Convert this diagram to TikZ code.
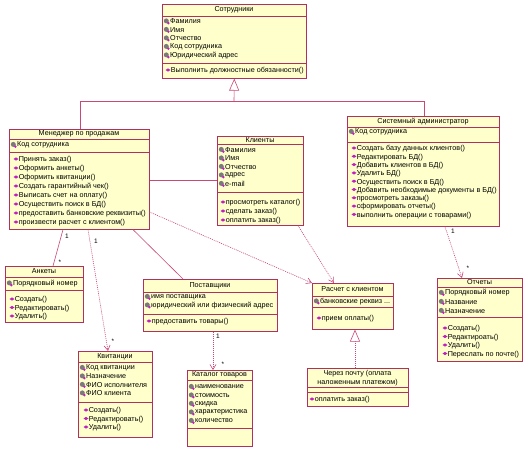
\documentclass[tikz,border=0pt]{standalone}
\usepackage{fontspec}
\setmainfont{Liberation Sans}
\usetikzlibrary{arrows.meta}
\definecolor{boxfill}{HTML}{FFFFCC}
\definecolor{boxline}{HTML}{B03060}
\definecolor{conn}{HTML}{C84878}
\definecolor{opicon}{HTML}{C020C0}
\definecolor{aticon}{HTML}{7A7A7A}
\newcounter{tcnt}
\tikzset{
 cls/.style={draw=boxline, fill=boxfill, line width=0.6pt, inner sep=0pt, anchor=north west},
 sep/.style={draw=boxline, line width=0.6pt},
 ttl/.style={font=\fontsize{7.2}{8}\selectfont, inner sep=0pt},
 txt/.style={font=\fontsize{7.2}{8}\selectfont, inner sep=0pt, anchor=west},
 assoc/.style={draw=conn, line width=0.6pt},
 dep/.style={draw=conn, line width=0.6pt, dash pattern=on 1pt off 1pt, -{Straight Barb[length=5pt,width=6pt]}},
 gen/.style={draw=conn, line width=0.6pt, -{Triangle[open,length=12pt,width=10pt,fill=white]}},
 mult/.style={font=\fontsize{6.5}{7}\selectfont, inner sep=0pt},
}
\newcommand\umlbox[5]{%
 \pgfmathsetmacro\bw{#4-#2}\pgfmathsetmacro\bh{#5-#3}%
 \node[cls, minimum width=\bw pt, minimum height=\bh pt] (#1) at (#2,#3) {};}
\newcommand\hsep[2]{\draw[sep] (#1.west |- 0,#2) -- (#1.east |- 0,#2);}
\newcommand\ttlnode[3]{\stepcounter{tcnt}\node[ttl] (t\arabic{tcnt}) at (#1,#2) {#3};}
\newcommand\attr[3]{%
 \fill[aticon] (#1+1.3,#2-0.6) circle (2.5pt);
 \fill[opicon] (#1+3.3,#2+1.6) circle (1.4pt);
 \stepcounter{tcnt}\node[txt] (t\arabic{tcnt}) at (#1+5,#2) {#3};}
\newcommand\oper[3]{%
 \fill[opicon] (#1-2.5,#2-1) -- (#1,#2-2.6) -- (#1+2.5,#2-1) -- (#1,#2+0.6) -- cycle;
 \stepcounter{tcnt}\node[txt] (t\arabic{tcnt}) at (#1+2.6,#2) {#3};}
\begin{document}
\begin{tikzpicture}[x=1pt,y=-1pt]
\useasboundingbox[fill=white] (0,0) rectangle (528,451);

% Сотрудники
\umlbox{emp}{162}{4}{306}{78}
\hsep{emp}{16}\hsep{emp}{63}
\ttlnode{234}{10}{Сотрудники}
\attr{165}{21.5}{Фамилия}
\attr{165}{30}{Имя}
\attr{165}{38.5}{Отчество}
\attr{165}{47}{Код сотрудника}
\attr{165}{55.5}{Юридический адрес}
\oper{168}{71}{Выполнить должностные обязанности()}

% Менеджер по продажам
\umlbox{mgr}{9}{129}{149}{229}
\hsep{mgr}{139}\hsep{mgr}{152}
\ttlnode{79}{134}{Менеджер по продажам}
\attr{12}{145}{Код сотрудника}
\oper{16}{160}{Принять заказ()}
\oper{16}{169}{Оформить анкеты()}
\oper{16}{178}{Оформить квитанции()}
\oper{16}{187}{Создать гарантийный чек()}
\oper{16}{196}{Выписать счет на оплату()}
\oper{16}{205}{Осуществить поиск в БД()}
\oper{16}{214}{предоставить банковские реквизиты()}
\oper{16}{223}{произвести расчет с клиентом()}

% Клиенты
\umlbox{cli}{217}{136}{303}{225}
\hsep{cli}{144}\hsep{cli}{192}
\ttlnode{260}{140}{Клиенты}
\attr{220}{150}{Фамилия}
\attr{220}{158.5}{Имя}
\attr{220}{167}{Отчество}
\attr{220}{175.5}{адрес}
\attr{220}{184}{e-mail}
\oper{223}{203}{просмотреть каталог()}
\oper{223}{212}{сделать заказ()}
\oper{223}{221}{оплатить заказ()}

% Системный администратор
\umlbox{adm}{347}{116}{499}{226}
\hsep{adm}{127}\hsep{adm}{142}
\ttlnode{423}{121.5}{Системный администратор}
\attr{350}{132}{Код сотрудника}
\oper{354}{149}{Создать базу данных клиентов()}
\oper{354}{157.3}{Редактировать БД()}
\oper{354}{165.6}{Добавить клиентов в БД()}
\oper{354}{173.9}{Удалить БД()}
\oper{354}{182.2}{Осуществить поиск в БД()}
\oper{354}{190.5}{Добавить необходимые документы в БД()}
\oper{354}{198.8}{просмотреть заказы()}
\oper{354}{207.1}{сформировать отчеты()}
\oper{354}{215.4}{выполнить операции с товарами()}

% Анкеты
\umlbox{ank}{5}{266}{83}{322}
\hsep{ank}{277}\hsep{ank}{290}
\ttlnode{44}{271.5}{Анкеты}
\attr{8}{283.5}{Порядковый номер}
\oper{12}{300}{Создать()}
\oper{12}{308.5}{Редактировать()}
\oper{12}{317}{Удалить()}

% Квитанции
\umlbox{kv}{78}{351}{152}{437}
\hsep{kv}{362}\hsep{kv}{402}
\ttlnode{115}{357}{Квитанции}
\attr{81}{368}{Код квитанции}
\attr{81}{376.5}{Назначение}
\attr{81}{385}{ФИО исполнителя}
\attr{81}{393.5}{ФИО клиента}
\oper{86}{411}{Создать()}
\oper{86}{419.5}{Редактировать()}
\oper{86}{428}{Удалить()}

% Поставщики
\umlbox{post}{143}{279}{277}{331}
\hsep{post}{292}\hsep{post}{314}
\ttlnode{210}{285.5}{Поставщики}
\attr{146}{297}{имя поставщика}
\attr{146}{305.5}{юридический или физический адрес}
\oper{149}{322}{предоставить товары()}

% Каталог товаров
\umlbox{kat}{187}{370}{252}{446}
\hsep{kat}{380}\hsep{kat}{428}
\ttlnode{219.5}{375}{Каталог товаров}
\attr{190}{387}{наименование}
\attr{190}{395.5}{стоимость}
\attr{190}{404}{скидка}
\attr{190}{412.5}{характеристика}
\attr{190}{421}{количество}

% Расчет с клиентом
\umlbox{ras}{312}{283}{393}{329}
\hsep{ras}{296}\hsep{ras}{307}
\ttlnode{352.5}{289.5}{Расчет с клиентом}
\attr{315}{301.5}{банковские реквиз ...}
\oper{319}{319}{прием оплаты()}

% Через почту
\umlbox{pochta}{307}{368}{408}{406}
\hsep{pochta}{387}\hsep{pochta}{392}
\ttlnode{357.5}{374}{Через почту (оплата}
\ttlnode{357.5}{383}{наложенным платежом)}
\oper{312}{400}{оплатить заказ()}

% Отчеты
\umlbox{otch}{437}{278}{522}{361}
\hsep{otch}{287}\hsep{otch}{317}
\ttlnode{479.5}{282.5}{Отчеты}
\attr{440}{293}{Порядковый номер}
\attr{440}{302}{Название}
\attr{440}{311}{Назначение}
\oper{445}{329}{Создать()}
\oper{445}{337.5}{Редактироать()}
\oper{445}{346}{Удалить()}
\oper{445}{354.5}{Переслать по почте()}

% Generalization
\coordinate (gl) at (80,101);
\coordinate (gj) at (234,101);
\coordinate (gr) at (424,101);
\draw[assoc] (mgr.north -| gl) -- (gl) -- (gr) -- (adm.north -| gr);
\draw[gen] (gj) -- (emp.south);

% Associations
\draw[assoc] (mgr.east |- 0,180) -- (cli.west |- 0,180);
\draw[assoc] (mgr.south -| 63,0) -- (ank.north -| 53,0);
\node[mult] (m1) at (67,236) {1};
\node[mult] (m2) at (60,262) {*};
\draw[assoc] (mgr.south -| 133,0) -- (post.north -| 183,0);

% Dependencies
\draw[dep] (mgr.south -| 88,0) -- (kv.north -| 108,0);
\node[mult] (m3) at (96,241) {1};
\node[mult] (m4) at (113,341) {*};
\draw[dep] (mgr.east |- 0,212) -- (ras.north west);
\draw[dep] (cli.south -| 298,0) -- (ras.north -| 334,0);
\draw[dep] (post.south -| 213,0) -- (kat.north -| 213,0);
\node[mult] (m5) at (218,336) {1};
\node[mult] (m6) at (223,364) {*};
\draw[dep] (adm.south -| 445,0) -- (otch.north -| 462,0);
\node[mult] (m7) at (453,231) {1};
\node[mult] (m8) at (468,268) {*};

% Realization
\draw[gen, dash pattern=on 1pt off 1pt] (pochta.north -| 355,0) -- (ras.south -| 355,0);
\end{tikzpicture}
\end{document}
